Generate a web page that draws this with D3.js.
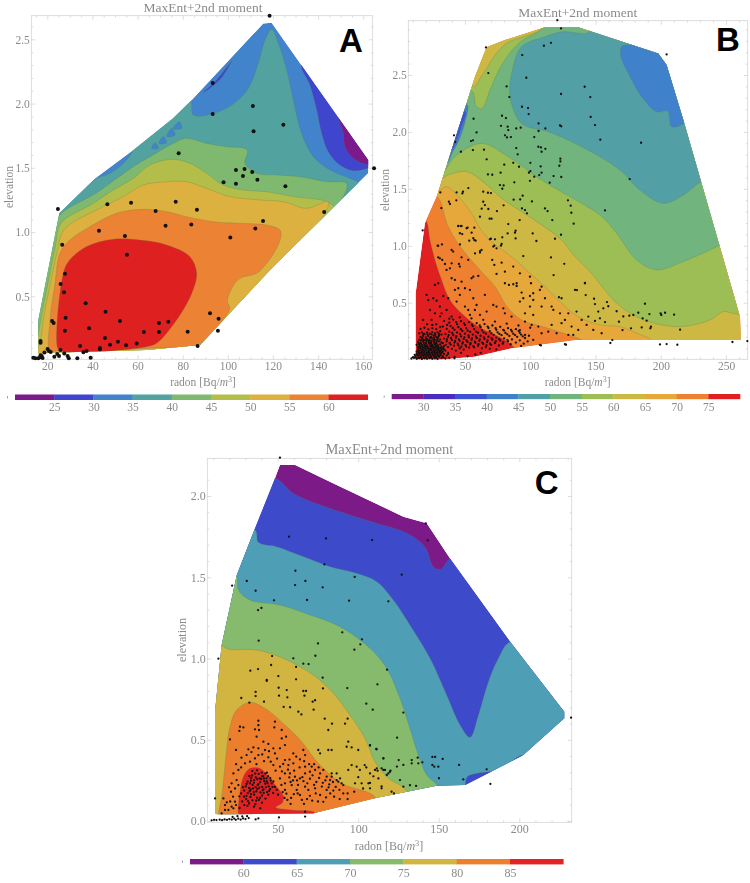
<!DOCTYPE html>
<html><head><meta charset="utf-8">
<script src="https://cdn.jsdelivr.net/npm/d3@7/dist/d3.min.js"></script>
<style>
html,body{margin:0;padding:0;background:#fff}
svg{display:block}
text{font-family:"Liberation Serif",serif;fill:#8b8b8b}
</style></head><body>
<svg id="c" width="750" height="883"></svg>
<script>
const titleText = "MaxEnt+2nd moment";
// ---------- panel A data (radon, elevation)
const hullA = [[16,0.056],[16,0.316],[25.3,1.146],[41.1,1.418],[58.1,1.639],[75.7,1.885],[84,2.028],[115.7,2.624],[119.4,2.63],[162.2,1.561],[162.2,1.457],[120.1,0.731],[87.7,0.121],[64,0.082],[24.9,0.062]];
const tealA = [[13.8,-0.05],[13.8,0.99],[25.3,1.156],[41.1,1.41],[47.8,1.457],[53.7,1.535],[57.4,1.618],[58.1,1.665],[83.2,2.04],[84.7,1.911],[93.6,1.924],[102.4,1.997],[109.1,2.119],[113.5,2.313],[116.5,2.495],[119.4,2.578],[122.4,2.469],[126.1,2.261],[129,2.028],[132.7,1.768],[137.9,1.587],[145.3,1.483],[154.1,1.418],[157.8,1.385],[155.6,1.34],[149.7,1.224],[140.8,1.042],[126,0.757],[102.4,0.342],[86.2,0.082],[86.2,-0.05]];
const greenA = [[14,-0.05],[14.5,0.3],[22.6,1.0],[25.3,1.13],[41.9,1.307],[58.1,1.509],[65.5,1.587],[77.3,1.704],[81.7,1.73],[90.6,1.69],[99.5,1.665],[108.6,1.639],[107.6,1.535],[112.8,1.457],[121.6,1.444],[132,1.431],[143.8,1.392],[152.6,1.379],[151.2,1.276],[139.4,1.042],[126,0.757],[102.4,0.342],[86.2,0.082],[86.2,-0.05]];
const oliveA = [[15,-0.05],[16.5,0.25],[20.3,0.6],[23.7,0.9],[26,1.068],[40.4,1.224],[49.2,1.327],[58.1,1.418],[65.5,1.522],[75.1,1.566],[83.2,1.535],[90.6,1.457],[98,1.366],[106.9,1.327],[117.2,1.314],[129,1.276],[143.8,1.237],[147.5,1.185],[140.8,1.042],[126,0.757],[102.4,0.342],[86.2,0.082],[86.2,-0.05]];
const goldA = [[16.2,-0.05],[17.4,0.2],[19,0.4],[21.4,0.6],[24.4,0.85],[27.5,1.02],[43.3,1.185],[53.7,1.276],[62.5,1.366],[72.9,1.392],[81.7,1.392],[90.6,1.34],[100.9,1.276],[114.2,1.25],[124.6,1.237],[134.9,1.185],[144.5,1.237],[142.3,1.12],[126,0.757],[102.4,0.342],[86.2,0.082],[86.2,-0.05]];
const orangeA = [[21.2,0.077],[21.2,0.316],[23.4,0.601],[25.6,0.835],[30,0.938],[38.9,1.042],[50.7,1.146],[62.5,1.177],[72.9,1.159],[81.7,1.12],[93.6,1.081],[105.4,1.068],[117.2,1.055],[123.1,1.016],[123.5,0.964],[121.6,0.874],[117.2,0.757],[112.8,0.679],[105.4,0.64],[101.7,0.562],[99.8,0.458],[100.9,0.407],[92,0.2],[86.9,0.126],[64,0.095],[25.6,0.077]];
const redA = [[24.4,0.108],[24.4,0.316],[27.1,0.679],[29.3,0.77],[37.4,0.887],[49.2,0.944],[61.1,0.938],[72.9,0.9],[83.2,0.809],[86.2,0.679],[84,0.523],[77.3,0.316],[68.4,0.134],[64,0.108],[43.3,0.069],[28.6,0.062],[25.3,0.082]];
const indigoA = [[132.7,2.308],[136.4,2.145],[139.4,1.95],[141.6,1.768],[144.5,1.626],[149.7,1.522],[155.6,1.478],[162.2,1.496],[167.4,1.535],[167.4,2.028],[146.7,2.417]];
const purpleA = [[149,1.911],[151.2,1.768],[151.9,1.665],[155.6,1.574],[162.2,1.522],[167.4,1.535],[167.4,1.95],[152.6,2.028]];
const streakA = [[89.1,2.085],[95,2.184],[100.9,2.313],[101.8,2.334],[97.3,2.204],[90.6,2.101]];
const bumpsA = [[[66.2,1.652],[67.7,1.696],[69.2,1.652]],[[69.5,1.69],[71.4,1.743],[72.9,1.696]],[[72.9,1.743],[75.1,1.807],[76.6,1.756]],[[75.8,1.807],[78.5,1.859],[79.5,1.807]]];
const pointsA = [[118.5,2.684],[164.8,1.496],[24.7,1.18],[26.6,0.902],[27.8,0.676],[25.9,0.596],[27.4,0.531],[37,0.446],[45.8,0.381],[52.2,0.308],[28.1,0.334],[22.1,0.308],[22.8,0.292],[27.8,0.233],[38.5,0.251],[69.5,0.292],[73.6,0.303],[69.5,0.222],[62.8,0.222],[82.2,0.225],[92.1,0.368],[95.9,0.326],[95.6,0.233],[86.6,0.113],[59.6,0.132],[54.9,0.119],[51.3,0.147],[45.6,0.176],[47.8,0.124],[43.3,0.098],[43.3,0.088],[34.5,0.113],[17,0.152],[17,0.139],[93.3,2.16],[111.1,1.981],[93.3,1.919],[111.4,1.784],[124.6,1.836],[78.2,1.613],[103.6,1.483],[107.4,1.491],[110.8,1.468],[106.7,1.436],[113.1,1.408],[98.1,1.387],[103.6,1.377],[125.5,1.356],[46.6,1.216],[57.1,1.229],[76.9,1.237],[86.3,1.174],[68,1.164],[142.7,1.156],[115.6,1.086],[112.2,1.027],[83.8,1.06],[72.4,1.05],[42.9,1.011],[54.4,0.97],[55.3,0.824],[101.1,0.957],[13.8,0.023],[14.7,0.018],[16.8,0.025],[17.5,0.036],[17.9,0.02],[18.7,0.062],[20.1,0.09],[20.7,0.075],[21.5,0.067],[23.1,0.03],[24.4,0.051],[25.2,0.036],[25.8,0.082],[27.5,0.056],[29,0.036],[29.5,0.018],[33.3,0.018],[39.2,0.023],[36,0.064],[37.4,0.075],[16,0.018],[17,0.041]];
const colorsA = ["#7C1A8B","#3F45CC","#4284CC","#52A2A0","#7FB96F","#B3BE4A","#DDB13F","#EC8334","#DF2020"];
// ---------- panel B data
const hullB = [[12.2,0.002],[12.2,0.582],[19.3,1.197],[28.3,1.431],[57.7,2.485],[66.6,2.743],[80.7,2.807],[111.3,2.919],[136.8,2.919],[198.1,2.69],[204.5,2.588],[217.3,2.105],[260.7,0.377],[261.2,0.178],[149.6,0.178],[134.3,0.172],[85.8,0.099],[57.7,0.026],[32.1,0.002]];
const orangeB = [[14,1.3],[20.6,1.212],[23.2,1.051],[27,0.876],[32.1,0.7],[38.5,0.524],[47.4,0.407],[60.2,0.29],[78.1,0.188],[87,0.114],[90,0.05],[265,0.05],[265,3.16],[50,3.16]];
const amberB = [[20,1.45],[28.8,1.432],[37.2,1.168],[47.4,0.978],[61.5,0.788],[73,0.641],[83.2,0.451],[93.4,0.349],[111.3,0.284],[131.7,0.208],[139.4,0.173],[145,0.1],[265,0.1],[265,3.16],[50,3.16]];
const oliveB = [[20,1.6],[30.8,1.49],[35.9,1.52],[44.9,1.432],[55.1,1.285],[61.5,1.154],[70.4,1.037],[85.7,0.905],[99.8,0.758],[111.3,0.641],[124,0.495],[136.8,0.378],[153.4,0.305],[168.7,0.29],[181.5,0.232],[191.7,0.182],[200,0.1],[265,0.1],[265,3.16],[50,3.16]];
const limeB = [[24.5,1.607],[30,1.578],[37.2,1.622],[51.3,1.651],[65.3,1.549],[78.1,1.417],[93.4,1.3],[108.7,1.183],[124,1.051],[134.3,0.905],[147,0.758],[163.6,0.524],[178.9,0.393],[196.8,0.314],[214.7,0.29],[230,0.319],[240.2,0.363],[247.9,0.422],[258.1,0.401],[270,0.42],[270,3.16],[113,3.16],[111.3,2.93],[81.9,2.778],[73,2.675],[66.6,2.558],[61.5,2.47],[57.7,2.403],[52.6,2.403]];
const greenB = [[27,1.607],[31.1,1.607],[42.3,1.782],[62.8,1.899],[83.2,1.782],[108.7,1.577],[139.4,1.372],[153.4,1.271],[166.2,1.11],[181.5,0.875],[196.8,0.788],[217.3,0.861],[244.1,0.999],[262,1.11],[262,3.16],[113.9,3.16],[111.8,2.938],[90.9,2.777],[78.1,2.587],[69.2,2.368],[63.3,2.207],[58.9,2.221],[55.9,2.353],[51.3,2.368]];
const tealB = [[85.8,2.514],[84.5,2.309],[93.4,2.075],[113.9,2.002],[139.4,1.87],[168.7,1.666],[184,1.49],[201.9,1.373],[217.3,1.446],[231.3,1.564],[245,1.6],[245,3.1],[144.5,3.0],[144.5,2.874],[124.1,2.88],[111.3,2.836],[93.4,2.748]];
const blueB = [[170,2.748],[175.2,2.763],[200.7,2.719],[210.9,2.573],[219.9,2.104],[208.4,2.046],[205.3,2.183],[196.9,2.177],[185.4,2.309],[175.2,2.514],[169.5,2.66]];
const stripBlueB = [[52,2.236],[49.5,2.06],[44.9,1.914],[41.1,1.835],[36,1.724],[32.1,1.782],[47.4,2.236]];
const stripIndigoB = [[50.5,2.177],[46.9,2.031],[43.6,1.929],[39.3,1.835],[34.7,1.841],[46.2,2.192]];
const pointsBUpper = [[120.8,2.982],[123.6,2.909],[66.1,2.742],[204.5,2.681],[115.9,2.783],[110.5,2.757],[93.9,2.675],[67.9,2.517],[97,2.476],[81.9,2.4],[84,2.306],[123.6,2.333],[141.7,2.397],[146,2.306],[93.7,2.221],[98.3,2.21],[98.8,2.157],[146.3,2.131],[149.6,2.06],[78.4,2.142],[81.4,2.122],[56.6,2.116],[77.6,2.054],[82.7,2.046],[83.2,2.016],[89.3,2.031],[92.7,2.037],[106.4,2.075],[106.4,2.008],[111.6,2.031],[122.8,2.057],[123.8,2.049],[58.9,1.996],[80.7,1.97],[82.2,1.952],[85.2,1.955],[103.1,1.955],[153.7,1.932],[184.9,1.905],[54.6,1.92],[56.1,1.926],[41.6,1.97],[42.6,1.911],[89.3,1.858],[90.4,1.803],[106.2,1.87],[108.2,1.864],[111.6,1.852],[108.7,1.826],[56.1,1.841],[64.6,1.844],[46.9,1.826],[66.6,1.759],[123.1,1.765],[123.1,1.741],[87,1.729],[100.1,1.729],[80.1,1.712],[122.3,1.703],[108,1.697],[91.4,1.694],[100.1,1.656],[99,1.642],[77.3,1.642],[67.6,1.627],[70.9,1.624],[108.7,1.642],[106.9,1.621],[103.1,1.607],[117.9,1.612],[123.8,1.604],[176.2,1.586],[99.8,1.571],[87.8,1.557],[114.9,1.554],[76.8,1.533],[79.6,1.53],[78.6,1.501],[52.6,1.507],[48.5,1.475],[48,1.46],[43.6,1.469],[64,1.475],[67.6,1.466],[69.9,1.463],[94.2,1.44],[31.1,1.469],[92.3,1.407],[128.9,1.399],[101.3,1.39],[64,1.387],[87.3,1.405],[43.4,1.399],[37.7,1.387],[38.5,1.367],[131,1.352],[157.3,1.311],[65.3,1.358],[62.8,1.326],[31.9,1.331],[79.6,1.355],[93.7,1.328],[96,1.314],[67.9,1.323],[74.5,1.305],[111.3,1.328],[113.3,1.305],[131.5,1.29],[17.6,1.135],[97.5,1.285],[61.5,1.255],[68.9,1.238],[70.4,1.238],[91.9,1.226],[116.9,1.226],[133.3,1.194],[83.2,1.191],[44.9,1.173],[46.9,1.173],[52,1.159],[57.2,1.159],[88.8,1.132],[82.7,1.109],[88.3,1.115],[123.6,1.097],[101.9,1.109],[47.9,1.103],[55.1,1.115],[53.3,1.045],[57.2,1.05],[69.9,1.062],[78.6,1.074],[88.8,1.065],[104.7,1.042],[119,1.062],[29.1,1.001],[32.4,1.012],[46.2,1.012],[72.5,1.001],[77.6,1.001],[94.7,0.91],[57.7,0.933],[61.5,0.954],[115.9,0.898],[126.1,0.842],[117.9,0.743],[142,0.673],[135.8,0.611],[142.5,0.567],[187.9,0.491],[148.9,0.535],[158.8,0.506],[149.6,0.488]];
const pointsBRight = [[254.9,0.155],[266.3,0.163],[214.8,0.263],[199.4,0.134],[204.5,0.137],[212.7,0.131],[162.9,0.172],[161.4,0.146],[127.4,0.131],[108.2,0.125],[191.3,0.4],[199.9,0.406],[200.4,0.392],[203.3,0.412],[210.2,0.395],[182.8,0.412],[175.9,0.386],[179,0.392],[186.1,0.362],[189.2,0.342],[192.5,0.289],[192,0.275],[177.2,0.275],[185.4,0.283],[168,0.333],[171.3,0.38],[166.2,0.425],[159.8,0.469],[157.3,0.33],[149.6,0.34],[170.7,0.26]];
const pointsBMid = [[29.5,0.999],[30.8,0.89],[29.5,0.899],[32.6,0.876],[39.8,0.963],[41,0.949],[34.7,0.84],[39.8,0.846],[45.4,0.84],[35.9,0.788],[38.5,0.802],[47.4,0.899],[52.5,0.876],[46.1,0.817],[56.4,0.729],[60.2,0.735],[55.1,0.715],[39.8,0.715],[42.3,0.7],[47.4,0.685],[44.9,0.627],[50,0.627],[42.3,0.612],[46.1,0.568],[53.8,0.612],[65.3,0.568],[56.4,0.539],[43.6,0.51],[50,0.466],[58.9,0.48],[66.6,0.422],[71.7,0.48],[74.2,0.466],[79.4,0.451],[80.6,0.407],[85.7,0.378],[52.5,0.436],[57.6,0.436],[61.5,0.393],[53.8,0.393],[44.9,1.174],[47.4,1.174],[51.3,1.154],[46.1,1.11],[56.4,1.066],[58.2,1.045],[62.7,0.963],[61.5,0.94],[69.1,1.057],[73,1.057],[71.7,0.993],[74.2,0.978],[78.1,1.016],[70.9,0.876],[72.5,0.832],[78.1,0.852],[80.6,0.773],[74.2,0.753],[87,0.817],[92.1,0.758],[89.6,0.671],[80.6,0.671],[83.7,0.656],[87,0.662],[89.6,0.647],[99.8,0.729],[100.6,0.671],[108.7,0.641],[107.4,0.612],[93.4,0.589],[102.3,0.583],[99.8,0.559],[94.7,0.539],[92.1,0.51],[102.3,0.524],[111.3,0.539],[108.7,0.466],[99.8,0.466],[96,0.407],[102.3,0.393],[116.4,0.466],[122,0.548],[124,0.539],[117.7,0.437],[122.8,0.407],[129.2,0.407],[135.5,0.422],[134.3,0.612],[141.9,0.671],[126.6,0.349],[139.4,0.349],[144.5,0.378],[143.2,0.305],[152.1,0.422],[156,0.451],[153.4,0.363],[148.3,0.261],[154.7,0.232],[116.4,0.305],[124,0.32],[131.7,0.29],[136.8,0.261],[120.2,0.232],[129.2,0.217],[133,0.217],[113.8,0.246],[108.7,0.232],[106.2,0.29],[101.1,0.305],[96,0.334],[92.1,0.26],[96,0.217],[102.3,0.173],[107.4,0.129],[126.6,0.135],[27,0.656],[29.5,0.67],[20.6,0.568],[25.7,0.539],[33.4,0.559],[21.9,0.524],[28.3,0.518],[37.2,0.539],[30.8,0.466],[23.2,0.436],[35.9,0.436],[27,0.407],[32.1,0.407],[39.8,0.378],[18,0.349],[24.4,0.349]];
const pointsBBand = [[34,0.34],[38,0.325],[41,0.352],[44,0.31],[47,0.338],[50,0.305],[53,0.33],[56,0.295],[59,0.32],[62,0.285],[65,0.312],[68,0.278],[71,0.3],[74,0.262],[77,0.288],[80,0.255],[83,0.276],[86,0.248],[89,0.268],[92,0.236],[33,0.29],[36,0.27],[39,0.295],[42,0.262],[45,0.285],[48,0.252],[51,0.276],[54,0.244],[57,0.268],[60,0.236],[63,0.258],[66,0.228],[69,0.25],[72,0.218],[75,0.24],[78,0.215],[81,0.235],[84,0.208],[87,0.228],[90,0.2],[93,0.22],[96,0.19],[99,0.21],[35,0.225],[38,0.245],[41,0.215],[44,0.238],[47,0.205],[50,0.228],[53,0.196],[56,0.22],[59,0.19],[62,0.21],[65,0.182],[68,0.202],[71,0.175],[74,0.194],[77,0.168],[80,0.186],[83,0.16],[86,0.178],[89,0.15],[92,0.17],[95,0.14],[98,0.16],[34,0.185],[37,0.2],[40,0.172],[43,0.192],[46,0.165],[49,0.182],[52,0.155],[55,0.172],[58,0.148],[61,0.165],[64,0.138],[67,0.155],[70,0.13],[73,0.146],[76,0.125],[79,0.14],[33,0.145],[36,0.16],[39,0.132],[42,0.15],[45,0.125],[48,0.14],[51,0.115],[54,0.132],[57,0.108],[60,0.122],[63,0.1],[66,0.11],[69,0.095],[46,0.1],[49,0.088],[43,0.08],[40,0.095],[37,0.11],[38,0.36],[46,0.372],[55,0.362],[64,0.35],[73,0.334],[82,0.316],[91,0.3],[100,0.28],[31,0.38],[28,0.31],[62,0.06],[58,0.045],[52,0.03],[47,0.06],[42,0.025],[37,0.05],[85,0.135],[74,0.09],[93,0.12],[36.4,0.305],[40.7,0.278],[43.2,0.33],[46.8,0.268],[49.3,0.318],[52.1,0.254],[55.4,0.308],[58.6,0.246],[61.3,0.3],[64.2,0.24],[67.4,0.29],[70.2,0.232],[73.5,0.276],[76.4,0.226],[79.3,0.262],[82.4,0.222],[85.3,0.262],[88.4,0.216],[91.2,0.252],[94.3,0.205],[37.5,0.216],[40.3,0.234],[43.4,0.206],[46.3,0.224],[49.6,0.196],[52.7,0.212],[55.3,0.186],[58.4,0.204],[61.4,0.178],[64.5,0.196],[67.3,0.17],[70.4,0.188],[73.6,0.162],[76.2,0.18],[79.4,0.154],[82.5,0.172],[36.2,0.178],[39.4,0.19],[42.5,0.164],[45.3,0.178],[48.4,0.152],[51.2,0.168],[54.3,0.144],[57.6,0.158],[60.4,0.136],[63.2,0.15],[66.5,0.126],[69.3,0.14],[35.3,0.13],[38.3,0.146],[41.6,0.122],[44.4,0.14],[47.3,0.115],[50.4,0.128],[53.2,0.106],[56.4,0.118]];
const pointsBCore = [[9,0.01],[11,0.015],[13,0.008],[15,0.014],[17,0.006],[19,0.012],[21,0.007],[23,0.014],[25,0.008],[27,0.012],[29,0.006],[32,0.014],[35,0.01],[38,0.016],[42,0.012],[12,0.03],[14,0.036],[16,0.028],[18,0.034],[20,0.026],[22,0.038],[24,0.03],[26,0.036],[28,0.028],[30,0.034],[33,0.03],[36,0.036],[13,0.05],[15,0.056],[17,0.048],[19,0.054],[21,0.046],[23,0.058],[25,0.05],[27,0.056],[29,0.048],[31,0.054],[34,0.05],[37,0.06],[13,0.07],[15,0.076],[17,0.068],[19,0.074],[21,0.066],[23,0.078],[25,0.07],[27,0.076],[29,0.068],[31,0.074],[33,0.07],[35,0.08],[14,0.09],[16,0.096],[18,0.088],[20,0.094],[22,0.086],[24,0.098],[26,0.09],[28,0.096],[30,0.088],[32,0.094],[34,0.09],[14,0.11],[16,0.116],[18,0.108],[20,0.114],[22,0.106],[24,0.118],[26,0.11],[28,0.116],[30,0.108],[32,0.114],[34,0.12],[13,0.13],[15,0.136],[17,0.128],[19,0.134],[21,0.126],[23,0.138],[25,0.13],[27,0.136],[29,0.128],[31,0.134],[14,0.155],[16,0.15],[18,0.16],[20,0.148],[22,0.158],[24,0.15],[26,0.162],[28,0.152],[30,0.16],[32,0.152],[15,0.175],[17,0.182],[19,0.172],[21,0.18],[23,0.17],[25,0.184],[27,0.174],[29,0.182],[31,0.175],[16,0.2],[18,0.21],[20,0.196],[22,0.206],[24,0.198],[26,0.21],[28,0.2],[30,0.208],[32,0.22],[15,0.23],[17,0.24],[19,0.226],[21,0.236],[23,0.228],[25,0.242],[27,0.23],[29,0.24],[31,0.25],[16,0.27],[19,0.28],[22,0.265],[25,0.275],[28,0.268],[31,0.285],[21,0.31],[25,0.305],[10.2,0.022],[12.3,0.02],[14.2,0.018],[16.3,0.022],[18.4,0.018],[20.3,0.02],[22.4,0.022],[24.3,0.02],[26.4,0.024],[28.3,0.02],[30.4,0.024],[33.4,0.02],[11.5,0.042],[13.4,0.042],[15.3,0.04],[17.4,0.04],[19.3,0.04],[21.4,0.036],[23.3,0.042],[25.4,0.04],[27.3,0.042],[29.4,0.038],[31.5,0.04],[14.3,0.062],[16.2,0.06],[18.3,0.06],[20.4,0.058],[22.2,0.06],[24.4,0.062],[26.3,0.064],[28.2,0.06],[30.3,0.062],[32.4,0.06],[14.2,0.082],[16.4,0.084],[18.2,0.08],[20.3,0.082],[22.4,0.076],[24.3,0.086],[26.2,0.082],[28.4,0.084],[30.2,0.078],[32.2,0.082],[15.3,0.103],[17.2,0.102],[19.4,0.1],[21.3,0.102],[23.2,0.096],[25.4,0.104],[27.2,0.102],[29.3,0.1],[31.2,0.1],[33.3,0.104],[15.2,0.124],[17.4,0.122],[19.2,0.12],[21.2,0.118],[23.4,0.122],[25.2,0.122],[27.4,0.12],[29.2,0.12],[14.4,0.144],[16.2,0.142],[18.4,0.144],[20.2,0.14],[22.4,0.146],[24.2,0.14],[26.4,0.148],[28.2,0.142],[16.3,0.168],[18.2,0.172],[20.4,0.164],[22.3,0.17],[24.3,0.162],[26.2,0.172],[28.4,0.166],[17.4,0.19],[20.2,0.186],[23.3,0.19],[26.4,0.192],[29.3,0.194],[18.2,0.225],[21.3,0.218],[24.4,0.222],[27.3,0.218],[30.2,0.225]];
const colorsB = ["#7B1B8C","#4A2DBC","#3F52CF","#4081CC","#529FA6","#71B47E","#9CBE55","#CDB843","#E6A83A","#EE8030","#E02020"];
// ---------- panel C data
const hullC = [[11.1,0.043],[11.1,0.673],[15.2,1.083],[24.6,1.514],[35.9,1.801],[48.3,2.109],[51.4,2.191],[60.8,2.191],[86.6,2.068],[128,1.873],[142.5,1.832],[157,1.616],[194.2,1.104],[227.9,0.673],[227.9,0.632],[202.5,0.406],[166.3,0.221],[148.7,0.217],[109.4,0.139],[72.1,0.047],[15.2,0.041]];
const indigoC = [[3.9,2.109],[48.3,2.109],[59.7,2.016],[76.3,1.945],[94.9,1.883],[111.4,1.832],[128,1.781],[138.3,1.719],[142.5,1.668],[146.6,1.565],[151.2,1.549],[158,1.62],[250,1.62],[250,-0.07],[3.9,-0.07]];
const tealC = [[3.9,1.791],[35.9,1.791],[38,1.715],[49.4,1.688],[65.9,1.627],[82.5,1.565],[99,1.524],[111.5,1.473],[121.8,1.36],[132.1,1.206],[144.6,1.001],[154.9,0.775],[163.2,0.591],[169.4,0.515],[174.6,0.652],[180.8,0.857],[187,1.001],[194.6,1.104],[252,1.104],[252,-0.07],[3.9,-0.07]];
const greenC = [[3.9,1.514],[24.1,1.514],[25.6,1.422],[32.8,1.36],[51.4,1.329],[70.1,1.268],[88.7,1.196],[107.3,1.063],[117.7,0.939],[125.9,0.755],[132.1,0.57],[137.3,0.406],[142.5,0.283],[149.1,0.214],[152.8,-0.07],[3.9,-0.07]];
const goldC = [[3.9,1.079],[15.2,1.079],[19.4,1.058],[37,1.052],[53.5,1.001],[72.1,0.898],[84.6,0.786],[94.9,0.652],[104.2,0.509],[110.4,0.365],[118.7,0.263],[130.1,0.185],[132.1,-0.07],[3.9,-0.07]];
const orangeC = [[13.1,0.037],[15.2,0.149],[18.3,0.437],[20.4,0.58],[24.5,0.683],[32.8,0.73],[42.1,0.693],[54.5,0.591],[64.9,0.488],[75.2,0.355],[89.7,0.232],[111.4,0.139],[114.5,-0.1],[13.1,-0.1]];
const redC = [[25.6,0.047],[26.6,0.18],[28.7,0.273],[32.8,0.324],[39,0.324],[44.2,0.273],[49.4,0.211],[53.5,0.154],[52.9,0.113],[48.7,0.084],[58.7,0.067],[73.2,0.051],[73.2,0.016],[27.6,0.016]];
const patchC = [[166.7,0.222],[167.7,0.273],[173.5,0.293],[183.9,0.308],[192.1,0.345],[201.5,0.402],[203.5,0.365],[169.4,0.18]];
const pointsCUpper = [[51.4,2.236],[141.9,1.832],[143.1,1.727],[57,1.75],[80,1.739],[108.6,1.729],[79,1.579],[61,1.54],[97.8,1.502],[127,1.516],[30.8,1.477],[60.8,1.452],[67.2,1.477],[77.9,1.438],[21.7,1.448],[36.3,1.417],[47.7,1.358],[68.2,1.36],[94.3,1.356],[118.7,1.352],[37.8,1.298],[39.9,1.311],[90.1,1.161],[102.3,1.118],[101.3,1.087],[38.2,1.11],[75,1.093],[97.6,1.054],[13.2,0.999],[73.4,1.017],[46.5,1.015],[59.7,1.001],[65.9,0.968],[69.2,0.966],[61.4,0.948],[117.9,0.931],[111.9,0.841],[45.9,0.96],[33,0.925],[37.8,0.935],[50.4,0.892],[77.9,0.882],[61.4,0.872],[43.2,0.868],[43.2,0.862],[50.6,0.82],[55.6,0.806],[93.2,0.818],[78.1,0.816],[65.9,0.8],[67.6,0.8],[36.3,0.794],[36.3,0.769],[27.4,0.757],[50.8,0.771],[56,0.761],[66.6,0.771],[73.2,0.743],[71.7,0.734],[32.4,0.728],[41.5,0.734],[105,0.722],[109,0.685],[128,0.667],[53.7,0.702],[57.7,0.7],[62.8,0.673],[64.7,0.656],[72.3,0.685],[79.2,0.63],[93.4,0.63],[83.7,0.599],[91.8,0.599],[232.1,0.636],[124.1,0.513],[81.4,0.56]];
const pointsCRight = [[107.3,0.464],[111.2,0.443],[115.6,0.386],[125.1,0.375],[133.2,0.375],[136.9,0.39],[146,0.394],[147.7,0.394],[152.4,0.382],[139.8,0.361],[146,0.345],[149.7,0.334],[147.2,0.334],[162.6,0.345],[179.7,0.318],[150.1,0.263],[165.2,0.256],[182,0.228],[137.3,0.355],[133.2,0.355],[128,0.345],[124,0.335],[111.5,0.324],[115.6,0.314],[117.7,0.283],[125.9,0.252],[132.1,0.22],[135.9,0.216],[122.2,0.17],[128,0.211],[107.3,0.234],[109.4,0.275],[114.5,0.213],[103,0.2],[100,0.27],[105,0.33],[112,0.31],[120,0.31]];
const pointsCLower = [[26.6,0.58],[28.7,0.576],[26.2,0.554],[38,0.617],[38,0.59],[35.9,0.564],[38.4,0.56],[48.3,0.611],[47.9,0.576],[52.5,0.56],[20.4,0.502],[36.9,0.519],[41.1,0.488],[44.2,0.474],[52.5,0.508],[55.2,0.519],[54.5,0.467],[24.1,0.437],[31.8,0.441],[34.9,0.453],[38,0.447],[42.1,0.437],[47.3,0.447],[51.4,0.447],[65.9,0.437],[67,0.406],[59.7,0.416],[30.7,0.406],[35.9,0.385],[38,0.406],[44.2,0.392],[48.3,0.416],[54.5,0.375],[63.8,0.379],[71.1,0.334],[67,0.334],[59.7,0.355],[56.6,0.344],[51.4,0.334],[47.3,0.344],[29.7,0.355],[32.8,0.365],[25.6,0.314],[22.5,0.293],[21.4,0.232],[19.8,0.207],[21,0.18],[24.5,0.252],[23.5,0.2],[25.6,0.221],[54.5,0.293],[57.6,0.293],[60.7,0.273],[63.8,0.262],[67,0.293],[70,0.303],[73.2,0.314],[76.3,0.293],[78.3,0.314],[80.4,0.273],[83.5,0.273],[86.6,0.252],[89.7,0.232],[54.5,0.232],[58.7,0.221],[61.8,0.191],[63.8,0.16],[67,0.211],[69,0.191],[73.2,0.201],[76.3,0.16],[80.4,0.191],[84.5,0.187],[90.7,0.17],[54.5,0.191],[51.4,0.262],[67,0.027],[67,0.057],[50.8,0.022],[38,0.016],[36.3,0.01],[21.4,0.088],[17.3,0.068],[15.2,0.047],[11.1,0.139],[16.3,0.139],[17.3,0.098],[23.5,0.119],[19.4,0.068],[22.5,0.078],[75.2,0.437],[76.3,0.416],[81.4,0.437],[83.5,0.437],[93.8,0.488],[92.8,0.457],[95.9,0.453],[100,0.437],[107.3,0.467],[111.4,0.441],[115.6,0.385],[95.9,0.344],[93.8,0.314],[99,0.334],[101,0.314],[104,0.344],[107.3,0.293],[110.4,0.314],[114.5,0.324],[116.6,0.314],[118.7,0.293],[119.7,0.303],[83.5,0.293],[86.6,0.293],[88.7,0.262],[87.6,0.242],[82.5,0.252],[90.7,0.221],[98,0.232],[102.1,0.232],[106.3,0.232],[107.3,0.201],[112.5,0.262],[114.5,0.201],[120.7,0.18],[58,0.24],[62,0.25],[66,0.245],[70,0.26],[74,0.24],[78,0.235],[82,0.225],[86,0.21],[60,0.165],[65,0.13],[70,0.155],[75,0.12],[80,0.145],[85,0.15],[56,0.13],[58,0.105],[12,0.006],[14,0.008],[15.5,0.005],[17,0.01],[18.5,0.007],[20,0.012],[21.5,0.009],[23,0.015],[24,0.007],[25.5,0.014],[27,0.009],[28.5,0.016],[30,0.012],[32,0.018],[9,0.004],[10.5,0.007],[22,0.025],[25,0.03],[28,0.028],[31,0.03],[27.5,0.39],[33.7,0.424],[40.4,0.41],[44.6,0.43],[36.8,0.35],[41.5,0.368],[45.7,0.365],[49.6,0.384],[53.4,0.351],[57.3,0.378],[61.5,0.396],[24.2,0.35],[27.3,0.33],[48.7,0.31],[52.6,0.305],[56.4,0.316],[60.2,0.31],[63.6,0.33],[66.4,0.368],[69.5,0.35],[72.6,0.35],[75.4,0.33],[57.2,0.268],[59.5,0.25],[62.6,0.222],[65.3,0.27],[68.4,0.232],[71.6,0.281],[72.6,0.222],[75.7,0.265],[77.4,0.212],[79.6,0.25],[81.6,0.207],[84.3,0.24],[88.3,0.192],[93.4,0.17],[97.5,0.18],[55.4,0.168],[58.3,0.142],[62.4,0.17],[66.3,0.105],[68.2,0.135],[71.4,0.125],[73.6,0.17],[78.3,0.118],[82.6,0.17],[88.5,0.135],[93.4,0.135],[22.3,0.15],[24.1,0.098],[20.5,0.12],[18.4,0.115],[26.3,0.08]];
const pointsCRed = [[28,0.12],[30.4,0.135],[32.2,0.108],[34.3,0.127],[36.1,0.103],[38.3,0.13],[40.2,0.113],[30.6,0.155],[33.1,0.148],[35.4,0.162],[37.2,0.143],[40.3,0.157],[42.4,0.138],[44.2,0.162],[27.3,0.17],[29.2,0.187],[31.4,0.172],[33.2,0.193],[35.1,0.178],[37.4,0.197],[39.3,0.176],[41.2,0.194],[43.4,0.178],[45.3,0.197],[47.2,0.173],[49.4,0.192],[28.4,0.207],[30.2,0.213],[32.3,0.203],[34.4,0.222],[36.3,0.208],[38.1,0.227],[40.4,0.21],[42.2,0.23],[44.4,0.213],[46.2,0.232],[48.3,0.21],[31.3,0.242],[33.4,0.248],[35.2,0.236],[37.3,0.257],[39.1,0.24],[41.4,0.262],[43.2,0.243],[45.4,0.264],[47.3,0.243],[32.4,0.277],[34.1,0.28],[36.4,0.268],[38.2,0.29],[40.3,0.274],[42.3,0.292],[44.1,0.276],[34.3,0.307],[37.2,0.312],[40.1,0.298],[43.3,0.297],[26.2,0.152],[31.2,0.093],[35.3,0.088],[39.2,0.078],[29.3,0.098],[50.2,0.162],[52.3,0.222],[53.1,0.178],[54.2,0.142],[29.1,0.15],[31.5,0.122],[33.5,0.165],[36.6,0.125],[39.1,0.143],[41.3,0.173],[32.6,0.183],[34.7,0.2],[36.7,0.182],[38.6,0.205],[40.7,0.19],[42.7,0.207],[44.7,0.186],[46.8,0.21],[30.7,0.228],[32.8,0.232],[35.4,0.252],[37.6,0.222],[39.7,0.258],[41.6,0.245],[43.7,0.232],[45.7,0.25],[33.6,0.265],[36,0.292],[38.8,0.262],[41,0.278],[43,0.262]];
const colorsC = ["#7C1A88","#3D4BCB","#4E9EB5","#86BA6C","#D2B440","#EC7F2E","#E32224"];
// ---------- axes and legends
const ticksAx = [20,40,60,80,100,120,140,160];
const ticksAy = [0.5,1.0,1.5,2.0,2.5];
const ticksBx = [50,100,150,200,250];
const ticksBy = [0.5,1.0,1.5,2.0,2.5];
const ticksCx = [50,100,150,200];
const ticksCy = [0.0,0.5,1.0,1.5,2.0];
const legendA = [25,30,35,40,45,50,55,60];
const legendB = [30,35,40,45,50,55,60,65,70,75];
const legendC = [60,65,70,75,80,85];
const xLabelStart = "radon [Bq/", xLabelUnit = "m", xLabelPow = "3", xLabelEnd = "]", yLabel = "elevation";

const svg = d3.select("#c");
const smooth = d3.curveCatmullRomClosed.alpha(0.5);

function panel(o){
  const x = d3.scaleLinear().domain(o.xd).range([o.l,o.r]);
  const y = d3.scaleLinear().domain(o.yd).range([o.b,o.t]);
  const area = d3.line().x(d=>x(d[0])).y(d=>y(d[1])).curve(smooth);
  const hull = d3.line().x(d=>x(d[0])).y(d=>y(d[1])).curve(d3.curveLinearClosed);
  const g = svg.append("g").attr("class","panel").style("filter","blur(0.3px)");
  const clip = g.append("clipPath").attr("id","clip"+o.id);
  clip.append("path").attr("d",hull(o.hull));
  // frame + ticks
  g.append("rect").attr("x",o.l).attr("y",o.t).attr("width",o.r-o.l).attr("height",o.b-o.t).attr("fill","none").attr("stroke","#d4d4d4").attr("stroke-width",0.8);
  const axis=(fn,sc,vals,len,tx,fmt,pad)=>{
    const a=g.append("g").attr("transform",tx).call(fn(sc).tickValues(vals).tickSizeInner(len).tickSizeOuter(0).tickPadding(pad).tickFormat(fmt));
    a.select(".domain").remove(); a.selectAll("line").attr("stroke","#c8c8c8").attr("stroke-width",0.6);
    a.selectAll("text").attr("font-size",o.fs).style("fill","#8b8b8b"); return a;};
  const none=()=>"", f0=d3.format("d"), f1=d3.format(".1f");
  axis(d3.axisBottom,x,o.xt,-4,`translate(0,${o.b})`,f0,4).selectAll("text").attr("dy",o.xdy);
  axis(d3.axisTop,x,o.xt,-4,`translate(0,${o.t})`,none,4);
  axis(d3.axisLeft,y,o.yt,-4,`translate(${o.l},0)`,f1,1.5);
  axis(d3.axisRight,y,o.yt,-4,`translate(${o.r},0)`,none,4);
  axis(d3.axisBottom,x,o.xm,-2,`translate(0,${o.b})`,none,4);
  axis(d3.axisTop,x,o.xm,-2,`translate(0,${o.t})`,none,4);
  axis(d3.axisLeft,y,o.ym,-2,`translate(${o.l},0)`,none,4);
  axis(d3.axisRight,y,o.ym,-2,`translate(${o.r},0)`,none,4);
  // contour layers
  const L = g.append("g").attr("clip-path",`url(#clip${o.id})`);
  L.append("path").attr("d",hull(o.hull)).attr("fill",o.base);
  o.layers.forEach(l=>{
    L.append("path").attr("d",area(l[0])).attr("fill",l[1]).attr("stroke","#5c7a50").attr("stroke-opacity",0.45).attr("stroke-width",0.6);
  });
  // points
  g.append("g").selectAll("circle").data(o.points).join("circle")
    .attr("cx",d=>x(d[0])).attr("cy",d=>y(d[1])).attr("r",o.rad).attr("fill","#111");
  // title & labels
  g.append("text").attr("x",o.tx).attr("y",o.ty).attr("text-anchor","middle").attr("font-size",o.tfs).text(titleText);
  const xl=g.append("text").attr("x",o.xlx).attr("y",o.xly).attr("text-anchor","middle").attr("font-size",o.lfs);
  xl.append("tspan").text(xLabelStart);
  xl.append("tspan").attr("font-style","italic").text(xLabelUnit);
  xl.append("tspan").attr("dy",-4).attr("font-size",o.lfs*0.7).text(xLabelPow);
  xl.append("tspan").attr("dy",4).text(xLabelEnd);
  g.append("text").attr("transform",`translate(${o.ylx},${o.yly}) rotate(-90)`).attr("text-anchor","middle").attr("font-size",o.lfs).text(yLabel);
  // legend
  const lx=d3.scaleLinear().domain(o.ld).range([o.ll,o.lr]);
  const edges=d3.range(o.ld[0],o.ld[1],5);
  g.append("g").selectAll("rect").data(edges).join("rect")
    .attr("x",d=>lx(d)).attr("y",o.lt).attr("width",d=>lx(d+5)-lx(d)+0.3).attr("height",o.lh)
    .attr("fill",(d,i)=>o.colors[i]);
  g.append("line").attr("x1",o.ll-7.5).attr("x2",o.ll-7.5).attr("y1",o.lt+1.5).attr("y2",o.lt+o.lh-1.5).attr("stroke","#777").attr("stroke-width",0.7);
  const la=g.append("g").attr("transform",`translate(0,${o.lt+o.lh})`).call(d3.axisBottom(lx).tickValues(o.lticks).tickSize(0).tickPadding(o.lpad).tickFormat(f0));
  la.select(".domain").remove();
  la.selectAll("text").attr("font-size",o.fs).style("fill","#8b8b8b");
  // letter
  svg.append("text").attr("x",o.lettX).attr("y",o.lettY).attr("text-anchor","middle")
    .style("font-family","'Liberation Sans',sans-serif").style("font-weight","700").style("fill","#000").attr("font-size",33).text(o.id);
}

panel({id:"A",l:31.3,r:372.7,t:15.7,b:359.3,xd:[12.9,164.2],yd:[0.01,2.684],xt:ticksAx,yt:ticksAy,
  xm:d3.range(15,165,5).filter(v=>v%20),ym:d3.range(0.1,2.68,0.1).map(v=>+v.toFixed(1)).filter(v=>Math.round(v*10)%5),
  hull:hullA,base:colorsA[2],colors:colorsA,
  layers:[[tealA,colorsA[3]],[greenA,colorsA[4]],[oliveA,colorsA[5]],[goldA,colorsA[6]],[orangeA,colorsA[7]],[redA,colorsA[8]],[indigoA,colorsA[1]],[purpleA,colorsA[0]],[streakA,colorsA[1]]].concat(bumpsA.map(b=>[b,colorsA[2]])),
  points:pointsA,rad:2,fs:11.5,xdy:"0.62em",tx:203,ty:12,tfs:13.5,lfs:11.5,xlx:203,xly:386,ylx:12.5,yly:187,
  ld:[20,65],ll:15,lr:367.7,lt:394.5,lh:5.5,lticks:legendA,lpad:3,lettX:351,lettY:51.5});
panel({id:"B",l:408.3,r:747.7,t:20.7,b:359.3,xd:[6.6,266.6],yd:[0.003,2.977],xt:ticksBx,yt:ticksBy,
  xm:d3.range(10,265,10).filter(v=>v%50),ym:d3.range(0.1,2.97,0.1).map(v=>+v.toFixed(1)).filter(v=>Math.round(v*10)%5),
  hull:hullB,base:colorsB[10],colors:colorsB,
  layers:[[orangeB,colorsB[9]],[amberB,colorsB[8]],[oliveB,colorsB[7]],[limeB,colorsB[6]],[greenB,colorsB[5]],[tealB,colorsB[4]],[blueB,colorsB[3]],[stripBlueB,colorsB[3]],[stripIndigoB,colorsB[2]]],
  points:[...pointsBUpper,...pointsBRight,...pointsBMid,...pointsBBand,...pointsBCore],rad:1.15,fs:11.5,xdy:"0.62em",tx:577.7,ty:17,tfs:13.5,lfs:11.5,xlx:577.7,xly:386,ylx:389,yly:190,
  ld:[25,80],ll:391.7,lr:740,lt:394,lh:5.2,lticks:legendB,lpad:3.5,lettX:728,lettY:51});
panel({id:"C",l:207.3,r:571.7,t:458.3,b:822.3,xd:[6.3,232.5],yd:[-0.008,2.232],xt:ticksCx,yt:ticksCy,
  xm:d3.range(10,232,10).filter(v=>v%50),ym:d3.range(0.1,2.2,0.1).map(v=>+v.toFixed(1)).filter(v=>Math.round(v*10)%5),
  hull:hullC,base:colorsC[0],colors:colorsC,
  layers:[[indigoC,colorsC[1]],[tealC,colorsC[2]],[greenC,colorsC[3]],[goldC,colorsC[4]],[orangeC,colorsC[5]],[redC,colorsC[6]],[patchC,colorsC[1]]],
  points:[...pointsCUpper,...pointsCRight,...pointsCLower,...pointsCRed],rad:1.15,fs:12,xdy:"0.6em",tx:389.3,ty:454,tfs:14.5,lfs:12,xlx:389,xly:850,ylx:186,yly:640,
  ld:[55,90],ll:190,lr:563.3,lt:859,lh:5.4,lticks:legendC,lpad:4,lettX:546.7,lettY:494});
</script>
</body></html>
